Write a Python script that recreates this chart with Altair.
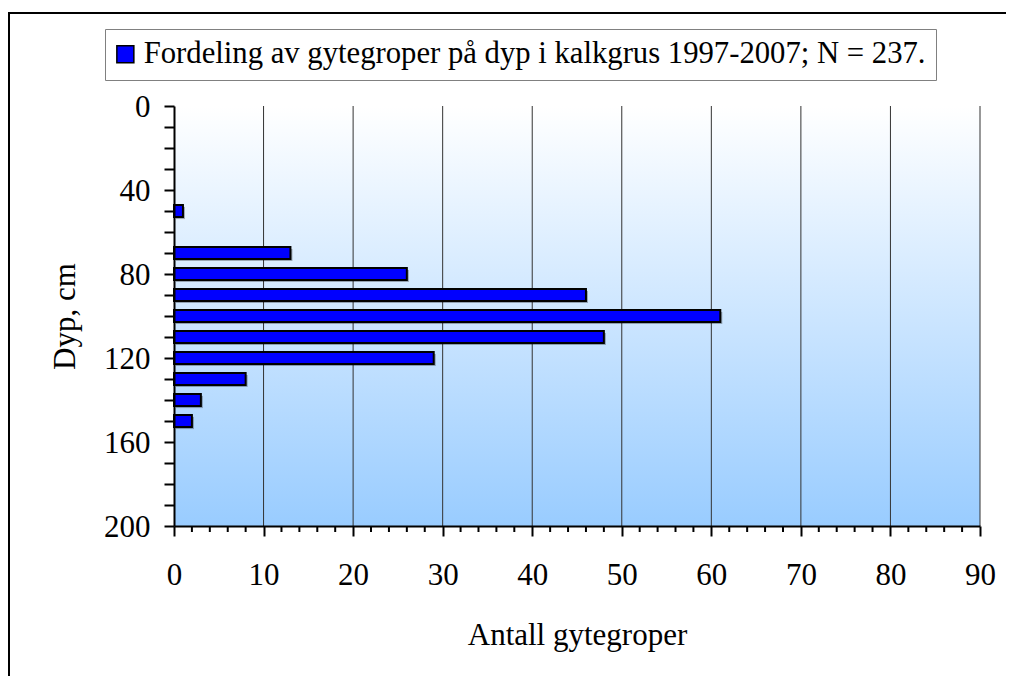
import altair as alt
import pandas as pd

# ---- data ----
depths = [50, 70, 80, 90, 100, 110, 120, 130, 140, 150]
counts = [1, 13, 26, 46, 61, 48, 29, 8, 3, 2]
series_name = "Fordeling av gytegroper på dyp i kalkgrus 1997-2007; N = 237."
x_grid = [10, 20, 30, 40, 50, 60, 70, 80, 90]
x_minor = [v for v in range(0, 91, 2) if v % 10]
y_ticks = list(range(0, 201, 10))
x_ticks = list(range(0, 91, 10))

W, H = 806, 420
PAD_L, PAD_T, PAD_R, PAD_B = 166, 98, 26, 150
FONT = "Liberation Serif"
FS = 31
HALF = 2.9

df = pd.DataFrame({"depth": depths, "count": counts, "series": [series_name] * len(depths)})

xscale = alt.Scale(domain=[0, 90], nice=False, zero=True)
yscale = alt.Scale(domain=[0, 200], reverse=True, nice=False)

xaxis = alt.Axis(
    title="Antall gytegroper", values=x_ticks, tickSize=10, tickWidth=2,
    domainWidth=2, domainColor="black", tickColor="black", grid=False,
    labelFont=FONT, labelFontSize=FS, labelColor="black", labelPadding=24,
    labelFlush=False,
    titleFont=FONT, titleFontSize=FS, titleFontWeight="normal", titleColor="black",
    titlePadding=30, zindex=2,
)
yaxis = alt.Axis(
    title="Dyp, cm", values=y_ticks, tickSize=10, tickWidth=2,
    domainWidth=2, domainColor="black", tickColor="black", grid=False,
    labelExpr="datum.value % 40 === 0 ? datum.label : ''",
    labelFont=FONT, labelFontSize=FS, labelColor="black", labelPadding=14,
    labelFlush=False, labelOffset=1,
    titleFont=FONT, titleFontSize=FS, titleFontWeight="normal", titleColor="black",
    titlePadding=22, zindex=2,
)

bg = alt.Chart(pd.DataFrame({"a": [0]})).mark_rect(
    color=alt.Gradient(
        gradient="linear",
        stops=[alt.GradientStop(color="#FFFFFF", offset=0),
               alt.GradientStop(color="#99CCFF", offset=1)],
        x1=0, x2=0, y1=0, y2=1,
    )
).encode(x=alt.value(0), x2=alt.value(W), y=alt.value(0), y2=alt.value(H))

grid = alt.Chart(pd.DataFrame({"v": x_grid})).mark_rule(color="#333333", strokeWidth=1).encode(
    x=alt.X("v:Q", scale=xscale, axis=xaxis), y=alt.value(0), y2=alt.value(H)
)

base = alt.Chart(df).transform_calculate(
    y0=f"datum.depth - {HALF}", y1=f"datum.depth + {HALF}", zero="0"
)

shadow = base.mark_rect(color="#000000", opacity=0.3, xOffset=2, x2Offset=2, yOffset=2, y2Offset=2).encode(
    x=alt.X("zero:Q", scale=xscale, axis=xaxis),
    x2="count:Q",
    y=alt.Y("y0:Q", scale=yscale, axis=yaxis),
    y2="y1:Q",
)

bars = base.mark_rect(stroke="black", strokeWidth=2).encode(
    x=alt.X("zero:Q", scale=xscale, axis=xaxis),
    x2="count:Q",
    y=alt.Y("y0:Q", scale=yscale, axis=yaxis),
    y2="y1:Q",
    color=alt.Color(
        "series:N",
        scale=alt.Scale(range=["#0000FF"]),
        legend=alt.Legend(
            title=None, orient="none", legendX=105 - 174, legendY=29 - 106,
            symbolType="square", symbolSize=289, symbolStrokeColor="black",
            symbolStrokeWidth=1.5, symbolOffset=-5, labelFont=FONT, labelFontSize=30.7,
            labelColor="black", labelLimit=900, padding=10, strokeColor="#808080",
            fillColor="white", labelOffset=3,
        ),
    ),
)

minor = alt.Chart(pd.DataFrame({"v": x_minor})).mark_rule(color="black", strokeWidth=2).encode(
    x=alt.X("v:Q", scale=xscale, axis=xaxis), y=alt.value(H), y2=alt.value(H + 6)
)

frame_top = alt.Chart(pd.DataFrame({"a": [0]})).mark_rule(color="black", strokeWidth=2).encode(
    x=alt.value(-PAD_L + 1), x2=alt.value(W + PAD_R), y=alt.value(-PAD_T + 5)
)
frame_left = alt.Chart(pd.DataFrame({"a": [0]})).mark_rule(color="black", strokeWidth=2).encode(
    x=alt.value(-PAD_L + 1), y=alt.value(-PAD_T + 4), y2=alt.value(H + PAD_B)
)

chart = alt.layer(bg, grid, shadow, bars, minor, frame_top, frame_left).properties(
    width=W, height=H,
    autosize=alt.AutoSizeParams(type="none"),
    padding={"left": PAD_L, "top": PAD_T, "right": PAD_R, "bottom": PAD_B},
).configure_view(stroke=None)

chart.save("out.html", embed_options={"renderer": "svg", "actions": False})
